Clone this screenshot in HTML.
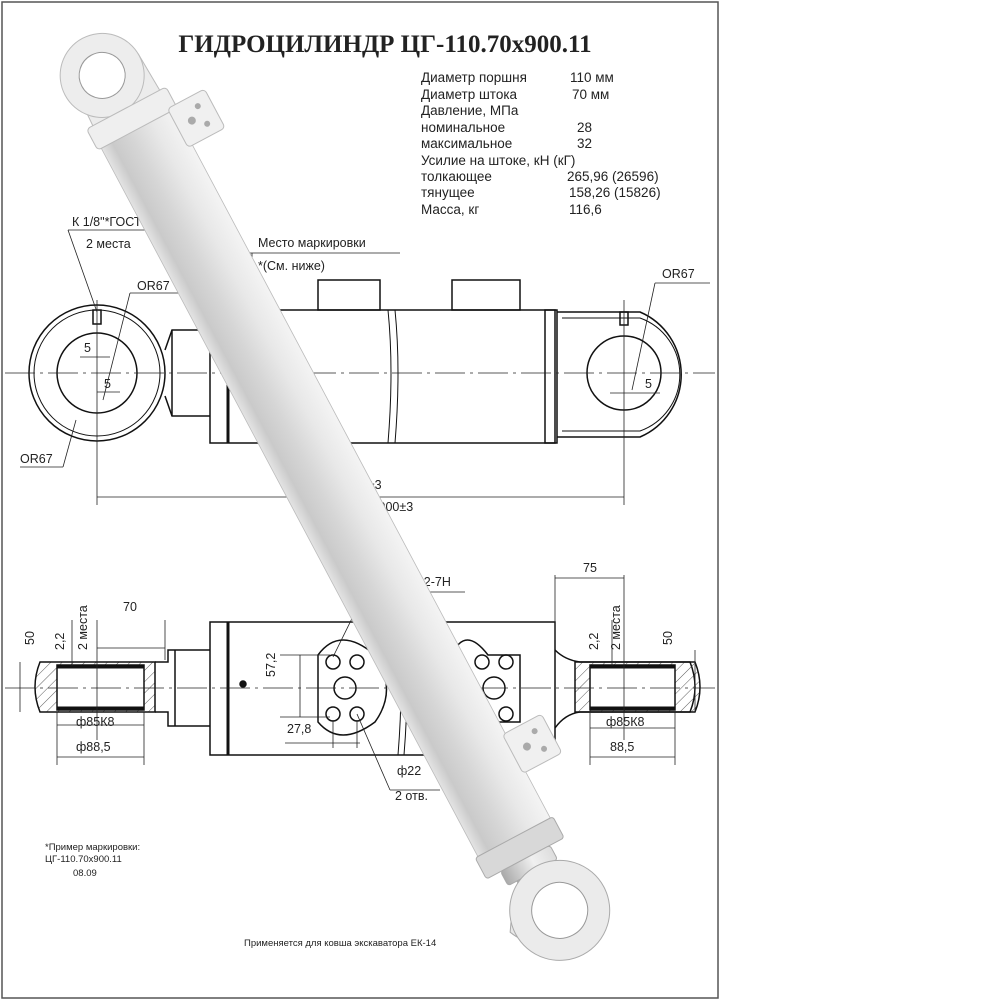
<!DOCTYPE html>
<html><head><meta charset="utf-8"><style>
html,body{margin:0;padding:0;background:#fff}
svg{display:block}
text{font-family:"Liberation Sans","DejaVu Sans",sans-serif;fill:#222}
</style></head><body>
<svg width="1000" height="1000" viewBox="0 0 1000 1000" xmlns="http://www.w3.org/2000/svg">
<defs>
<linearGradient id="tube" x1="0" y1="0" x2="0" y2="1">
<stop offset="0" stop-color="#f4f4f4"/><stop offset="0.3" stop-color="#e8e8e8"/><stop offset="0.6" stop-color="#d6d6d6"/><stop offset="0.85" stop-color="#cacaca"/><stop offset="1" stop-color="#e4e4e4"/>
</linearGradient>
<linearGradient id="rod" x1="0" y1="0" x2="0" y2="1">
<stop offset="0" stop-color="#ddd"/><stop offset="0.4" stop-color="#f0f0f0"/><stop offset="1" stop-color="#aaa"/>
</linearGradient>
<pattern id="hatch" width="8" height="8" patternUnits="userSpaceOnUse" patternTransform="rotate(45)"><line x1="0" y1="0" x2="0" y2="8" stroke="#333" stroke-width="0.8"/></pattern>
</defs>
<rect x="2" y="2" width="716" height="996" fill="#fff" stroke="#555" stroke-width="1.5"/>

<text x="385" y="52" font-weight="bold" font-size="25" text-anchor="middle" style="font-family:'Liberation Serif',serif">ГИДРОЦИЛИНДР ЦГ-110.70х900.11</text>

<g font-size="13.5">
<text x="421" y="82">Диаметр поршня</text><text x="570" y="82">110 мм</text>
<text x="421" y="99">Диаметр штока</text><text x="572" y="99">70 мм</text>
<text x="421" y="115">Давление, МПа</text>
<text x="421" y="132">номинальное</text><text x="577" y="132">28</text>
<text x="421" y="148">максимальное</text><text x="577" y="148">32</text>
<text x="421" y="165">Усилие на штоке, кН (кГ)</text>
<text x="421" y="181">толкающее</text><text x="567" y="181">265,96 (26596)</text>
<text x="421" y="197">тянущее</text><text x="569" y="197">158,26 (15826)</text>
<text x="421" y="214">Масса, кг</text><text x="569" y="214">116,6</text>
</g>

<!-- TOP VIEW -->
<g stroke="#111" fill="none" stroke-width="1.5">
<circle cx="97" cy="373" r="68"/><circle cx="97" cy="373" r="63" stroke-width="1"/>
<circle cx="97" cy="373" r="40"/>
<rect x="93" y="310" width="8" height="14"/>
<path d="M165 350 L172 330 L210 330 M165 396 L172 416 L210 416"/>
<line x1="172" y1="330" x2="172" y2="416"/>
<rect x="210" y="310" width="345" height="133" stroke-width="1.5"/>
<line x1="228" y1="310" x2="228" y2="443" stroke-width="3"/>
<rect x="318" y="280" width="62" height="30"/>
<rect x="452" y="280" width="68" height="30"/>
<path d="M388 310 q6 60 0 133 M395 310 q6 60 0 133" stroke-width="1"/>
<rect x="545" y="310" width="12" height="133"/>
<path d="M557 312 L640 312 A68 68 0 0 1 640 437 L557 437"/>
<path d="M562 318 L640 318 A60 60 0 0 1 640 431 L562 431" stroke-width="1"/>
<circle cx="624" cy="373" r="37"/>
<rect x="620" y="312" width="8" height="13"/>
<path d="M238 325 h50 v20 h-52 v-18" stroke-dasharray="12 6" stroke-width="1.2"/>
</g>
<g stroke="#222" stroke-width="0.8" fill="none">
<line x1="5" y1="373" x2="715" y2="373" stroke-dasharray="30 5 3 5"/>
<line x1="97" y1="300" x2="97" y2="505"/><line x1="624" y1="300" x2="624" y2="505"/>
<line x1="97" y1="497" x2="624" y2="497"/>
<line x1="68" y1="230" x2="230" y2="230"/><line x1="68" y1="230" x2="97" y2="312"/>
<line x1="250" y1="253" x2="400" y2="253"/><line x1="252" y1="253" x2="252" y2="325"/>
<line x1="130" y1="293" x2="180" y2="293"/><line x1="130" y1="293" x2="103" y2="400"/>
<line x1="20" y1="467" x2="63" y2="467"/><line x1="63" y1="467" x2="76" y2="420"/>
<line x1="655" y1="283" x2="710" y2="283"/><line x1="655" y1="283" x2="632" y2="390"/>
<line x1="80" y1="357" x2="110" y2="357"/><line x1="97" y1="392" x2="120" y2="392"/>
<line x1="610" y1="393" x2="660" y2="393"/>
</g>
<g font-size="12.5">
<text x="72" y="226">К 1/8"*ГОСТ 6111-52</text>
<text x="86" y="248">2 места</text>
<text x="258" y="247">Место маркировки</text>
<text x="258" y="270">*(См. ниже)</text>
<text x="137" y="290">OR67</text>
<text x="20" y="463">OR67</text>
<text x="662" y="278">OR67</text>
<text x="84" y="352">5</text><text x="104" y="388">5</text><text x="645" y="388">5</text>
<text x="340" y="489">1400±3</text>
<text x="305" y="511">Ход поршня 900±3</text>
</g>

<!-- BOTTOM VIEW -->
<g stroke="#111" fill="none" stroke-width="1.5">
<path d="M40 662 L155 662 L155 712 L40 712 Q30 687 40 662Z" fill="url(#hatch)"/>
<rect x="57" y="665" width="87" height="45" fill="#fff"/>
<line x1="57" y1="667" x2="144" y2="667" stroke-width="3"/><line x1="57" y1="708" x2="144" y2="708" stroke-width="3"/>
<path d="M155 662 L168 662 L168 650 L175 650 L210 650 M155 712 L168 712 L168 726 L175 726 L210 726"/>
<line x1="175" y1="650" x2="175" y2="726"/>
<rect x="210" y="622" width="345" height="133"/>
<line x1="228" y1="622" x2="228" y2="755" stroke-width="3"/>
<path d="M398 622 q6 60 0 133 M404 622 q6 60 0 133" stroke-width="1"/>
<circle cx="243" cy="684" r="3" fill="#111"/>
<path d="M318 655 Q340 625 375 655 Q398 690 375 722 Q340 748 318 722 Z"/>
<path d="M488 655 Q465 625 452 655 Q437 690 452 722 Q465 748 488 722 L520 722 L520 655 Z"/>
<circle cx="333" cy="662" r="7"/><circle cx="357" cy="662" r="7"/><circle cx="333" cy="714" r="7"/><circle cx="357" cy="714" r="7"/>
<circle cx="345" cy="688" r="11"/>
<circle cx="482" cy="662" r="7"/><circle cx="506" cy="662" r="7"/><circle cx="482" cy="714" r="7"/><circle cx="506" cy="714" r="7"/>
<circle cx="494" cy="688" r="11"/>
<path d="M555 650 Q565 660 580 662 L690 662 Q700 687 690 712 L580 712 Q565 714 555 728" />
<path d="M575 662 L695 662 Q705 687 695 712 L575 712Z" fill="url(#hatch)"/>
<rect x="590" y="665" width="85" height="45" fill="#fff"/>
<line x1="590" y1="667" x2="675" y2="667" stroke-width="3"/><line x1="590" y1="708" x2="675" y2="708" stroke-width="3"/>
</g>
<g stroke="#222" stroke-width="0.8" fill="none">
<line x1="5" y1="688" x2="715" y2="688" stroke-dasharray="30 5 3 5"/>
<line x1="20" y1="662" x2="20" y2="712"/>
<line x1="72" y1="620" x2="72" y2="666"/>
<line x1="97" y1="620" x2="97" y2="740"/><line x1="97" y1="648" x2="165" y2="648"/><line x1="165" y1="620" x2="165" y2="660"/>
<line x1="57" y1="725" x2="144" y2="725"/><line x1="57" y1="757" x2="144" y2="757"/><line x1="57" y1="712" x2="57" y2="765"/><line x1="144" y1="712" x2="144" y2="765"/>
<line x1="555" y1="575" x2="555" y2="640"/><line x1="624" y1="575" x2="624" y2="740"/><line x1="555" y1="578" x2="624" y2="578"/>
<line x1="590" y1="728" x2="675" y2="728"/><line x1="590" y1="757" x2="675" y2="757"/><line x1="590" y1="712" x2="590" y2="765"/><line x1="675" y1="712" x2="675" y2="765"/>
<line x1="612" y1="620" x2="612" y2="666"/><line x1="695" y1="650" x2="695" y2="712"/>
<line x1="300" y1="655" x2="300" y2="717"/><line x1="280" y1="655" x2="330" y2="655"/><line x1="280" y1="717" x2="330" y2="717"/>
<line x1="285" y1="743" x2="360" y2="743"/><line x1="333" y1="720" x2="333" y2="748"/><line x1="357" y1="720" x2="357" y2="748"/>
<line x1="333" y1="657" x2="365" y2="592"/><line x1="365" y1="592" x2="465" y2="592"/>
<line x1="357" y1="714" x2="390" y2="790"/><line x1="390" y1="790" x2="440" y2="790"/>
</g>
<g font-size="12.5">
<text x="123" y="611">70</text><text x="583" y="572">75</text>
<text x="370" y="586">8 отв. М12-7Н</text>
<text x="76" y="726">ф85К8</text><text x="76" y="751">ф88,5</text>
<text x="606" y="726">ф85К8</text><text x="610" y="751">88,5</text>
<text x="287" y="733">27,8</text>
<text x="397" y="775">ф22</text><text x="395" y="800">2 отв.</text>
<text transform="translate(34,645) rotate(-90)">50</text>
<text transform="translate(64,650) rotate(-90)">2,2</text>
<text transform="translate(87,650) rotate(-90)">2 места</text>
<text transform="translate(598,650) rotate(-90)">2,2</text>
<text transform="translate(620,650) rotate(-90)">2 места</text>
<text transform="translate(672,645) rotate(-90)">50</text>
<text transform="translate(275,677) rotate(-90)">57,2</text>
</g>
<g font-size="9.5">
<text x="45" y="850">*Пример маркировки:</text>
<text x="45" y="862">ЦГ-110.70х900.11</text>
<text x="73" y="876">08.09</text>
<text x="244" y="946">Применяется для ковша экскаватора ЕК-14</text>
</g>

<!-- 3D CYLINDER OVERLAY -->
<g transform="translate(130,115) rotate(62)">
<path d="M-5 -38 L-50 -36 A42 42 0 0 0 -50 36 L-5 38 Z" fill="#ececec" stroke="#bbb"/>
<circle cx="-48" cy="6" r="42" fill="#ededed" stroke="#bbb"/>
<circle cx="-48" cy="6" r="23" fill="#fff" stroke="#999"/>
<rect x="-5" y="-41" width="835" height="82" fill="url(#tube)" stroke="#bbb" stroke-width="0.8"/>
<rect x="-8" y="-45" width="24" height="90" rx="4" fill="#efefef" stroke="#bbb"/>
<rect x="12" y="-78" width="44" height="42" rx="4" fill="#f0f0f0" stroke="#bbb"/>
<circle cx="24" cy="-64" r="3" fill="#aaa"/><circle cx="44" cy="-64" r="3" fill="#aaa"/><circle cx="34" cy="-52" r="4" fill="#aaa"/>
<rect x="722" y="-82" width="44" height="44" rx="4" fill="#f0f0f0" stroke="#bbb"/>
<circle cx="734" cy="-68" r="3" fill="#aaa"/><circle cx="754" cy="-68" r="3" fill="#aaa"/><circle cx="744" cy="-54" r="4" fill="#aaa"/>
<rect x="818" y="-44" width="24" height="88" rx="3" fill="#d8d8d8" stroke="#aaa"/>
<rect x="842" y="-28" width="16" height="56" rx="3" fill="url(#rod)" stroke="#aaa"/>
<rect x="858" y="-18" width="10" height="36" fill="url(#rod)" stroke="#aaa"/>
<path d="M866 -26 L900 -48 A52 52 0 0 1 900 48 L866 26Z" fill="#e8e8e8" stroke="#aaa"/>
<circle cx="904" cy="-6" r="50" fill="#ebebeb" stroke="#aaa"/>
<circle cx="904" cy="-6" r="28" fill="#fff" stroke="#999"/>
</g>
</svg>
</body></html>
